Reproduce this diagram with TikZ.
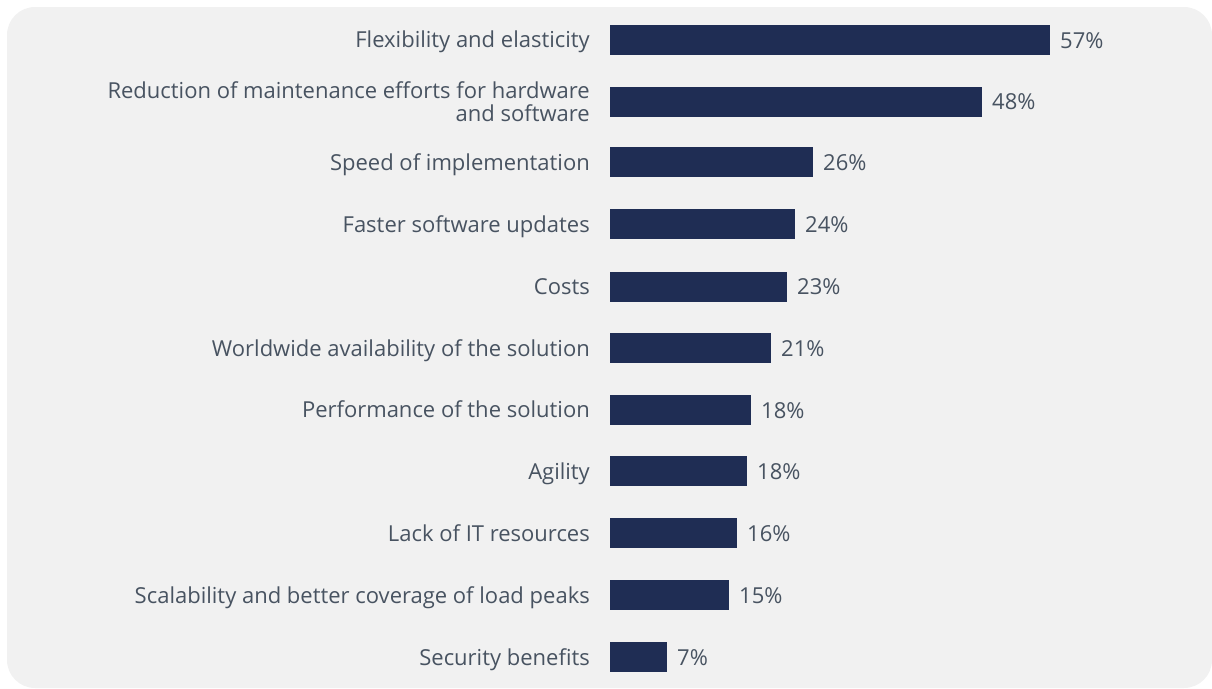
\documentclass[tikz,border=0pt]{standalone}
\usepackage{fontspec}
\setmainfont{Open Sans}
\definecolor{bg}{RGB}{241,241,241}
\definecolor{bar}{RGB}{31,45,84}
\definecolor{txt}{RGB}{72,83,97}
\tikzset{
  barbox/.style={fill=bar, draw=none},
  catlabel/.style={anchor=base east, text=txt, inner sep=0pt, font=\fontsize{22}{23.5}\selectfont, align=right},
  pctlabel/.style={anchor=base west, text=txt, inner sep=0pt, font=\fontsize{22}{23.5}\selectfont},
}
\begin{document}
\begin{tikzpicture}[x=1pt,y=-1pt]
\useasboundingbox (0,0) rectangle (1212,688);
\fill[bg, rounded corners=28pt] (7,7) rectangle (1212,688);
% rows: top y, end x, label, pct
\foreach \i/\t/\e/\p in {1/24.7/1050/57, 2/86.5/982/48, 3/147.3/813/26, 4/209.3/795/24, 5/271.5/787/23, 6/333.3/771/21, 7/394.7/751/18, 8/456.3/747/18, 9/518.3/737/16, 10/580/729/15, 11/642.3/667/7}{
  \path[barbox] (610,\t) rectangle (\e,\t+30) coordinate (b\i);
  \node[pctlabel] (p\i) at (\e+10,\t+23.3) {\p\%};
}
\node[catlabel] (l1) at (590,47.3) {Flexibility and elasticity};
\node[catlabel,anchor=east] (l2) at (590,101.5) {Reduction of maintenance efforts for hardware\\and software};
\node[catlabel] (l3) at (590,170.3) {Speed of implementation};
\node[catlabel] (l4) at (590,232.3) {Faster software updates};
\node[catlabel] (l5) at (590,294.5) {Costs};
\node[catlabel] (l6) at (590,356.3) {Worldwide availability of the solution};
\node[catlabel] (l7) at (590,417.7) {Performance of the solution};
\node[catlabel] (l8) at (590,479.3) {Agility};
\node[catlabel] (l9) at (590,541.3) {Lack of IT resources};
\node[catlabel] (l10) at (590,603) {Scalability and better coverage of load peaks};
\node[catlabel] (l11) at (590,665.3) {Security benefits};
\end{tikzpicture}
\end{document}
